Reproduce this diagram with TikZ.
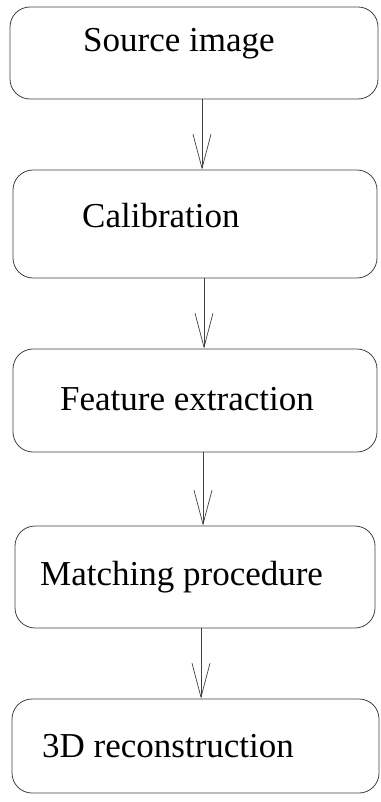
\documentclass[tikz,border=0pt]{standalone}
\usepackage{fontspec}
\setmainfont{Liberation Serif}
\usetikzlibrary{arrows.meta}
\begin{document}
\begin{tikzpicture}[x=1pt,y=-1pt,
  stage/.style={draw=black!75,line width=0.8pt,rounded corners=20pt,inner sep=0pt},
  caption/.style={anchor=base west,inner sep=0pt,font=\fontsize{35}{40}\selectfont},
  flow/.style={draw=black!75,line width=0.7pt,-{Straight Barb[length=34pt,width=18pt,line width=0.7pt]}}]
  \useasboundingbox (0,0) rectangle (380,802);
  % stage boxes (centre, width, height)
  \node[stage,minimum width=368pt,minimum height=92pt]  (b1) at (194,53)  {};
  \node[stage,minimum width=364pt,minimum height=108pt] (b2) at (195,224) {};
  \node[stage,minimum width=364pt,minimum height=103pt] (b3) at (195,400.5) {};
  \node[stage,minimum width=360pt,minimum height=102pt] (b4) at (195,577) {};
  \node[stage,minimum width=367pt,minimum height=94pt]  (b5) at (195.5,746) {};
  % captions
  \node[caption] (t1) at (83,52)  {Source image};
  \node[caption] (t2) at (82,228) {Calibration};
  \node[caption] (t3) at (60,410) {Feature extraction};
  \node[caption] (t4) at (40,585) {Matching procedure};
  \node[caption] (t5) at (42,757) {3D reconstruction};
  % connectors
  \draw[flow] ([xshift=8pt]b1.south) -- ([xshift=7pt]b2.north);
  \draw[flow] ([xshift=9pt]b2.south) -- ([xshift=9pt]b3.north);
  \draw[flow] ([xshift=8pt]b3.south) -- ([xshift=8pt]b4.north);
  \draw[flow] ([xshift=6pt]b4.south) -- ([xshift=5.5pt]b5.north);
\end{tikzpicture}
\end{document}
